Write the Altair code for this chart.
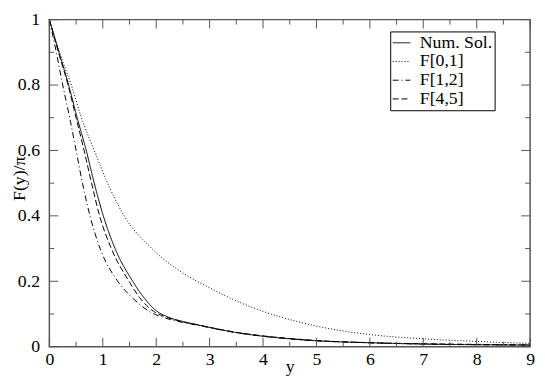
import altair as alt
import pandas as pd

# ---- data ----
series_names = ["Num. Sol.", "F[0,1]", "F[1,2]", "F[4,5]"]

x_num = [0, 0.18, 0.36, 0.52, 0.69, 0.84, 1.01, 1.23, 1.56, 1.77, 2.0, 2.2, 2.5, 2.8, 3.0, 3.5, 4.0, 4.5, 5.0, 6.0, 7.0, 8.0, 9.0]
y_num = [1, 0.9, 0.8, 0.7, 0.6, 0.5, 0.4, 0.3, 0.2, 0.15, 0.11, 0.092, 0.077, 0.066, 0.059, 0.043, 0.032, 0.024, 0.018, 0.012, 0.008, 0.006, 0.005]

x_f01 = [0, 0.19, 0.41, 0.6, 0.84, 1.09, 1.4, 1.92, 2.5, 3.0, 3.5, 4.0, 4.5, 5.0, 5.5, 6.0, 7.0, 8.0, 9.0]
y_f01 = [1, 0.9, 0.8, 0.7, 0.6, 0.5, 0.4, 0.3, 0.225, 0.18, 0.14, 0.108, 0.083, 0.063, 0.048, 0.037, 0.024, 0.016, 0.01]

x_f12 = [0, 0.13, 0.25, 0.38, 0.5, 0.62, 0.76, 0.95, 1.28, 1.55, 1.9, 2.2, 2.5, 2.8, 3.0, 3.5, 4.0, 4.5, 5.0, 6.0, 7.0, 8.0, 9.0]
y_f12 = [1, 0.9, 0.8, 0.7, 0.6, 0.5, 0.4, 0.3, 0.2, 0.15, 0.105, 0.086, 0.074, 0.065, 0.058, 0.043, 0.032, 0.024, 0.018, 0.012, 0.008, 0.006, 0.005]

x_f45 = [0, 0.17, 0.35, 0.5, 0.65, 0.79, 0.94, 1.16, 1.49, 1.69, 1.95, 2.2, 2.5, 2.8, 3.0, 3.5, 4.0, 4.5, 5.0, 6.0, 7.0, 8.0, 9.0]
y_f45 = [1, 0.9, 0.8, 0.7, 0.6, 0.5, 0.4, 0.3, 0.2, 0.15, 0.108, 0.09, 0.076, 0.066, 0.059, 0.044, 0.033, 0.025, 0.019, 0.012, 0.009, 0.007, 0.005]

x_major = [0, 1, 2, 3, 4, 5, 6, 7, 8, 9]
x_minor = [0.5, 1.5, 2.5, 3.5, 4.5, 5.5, 6.5, 7.5, 8.5]
y_major = [0, 0.2, 0.4, 0.6, 0.8, 1.0]
y_minor = [0.1, 0.3, 0.5, 0.7, 0.9]

# ---- build tables ----
rows = []
for name, xs, ys in zip(series_names, [x_num, x_f01, x_f12, x_f45], [y_num, y_f01, y_f12, y_f45]):
    for xv, yv in zip(xs, ys):
        rows.append({"x": xv, "y": yv, "series": name})
df = pd.DataFrame(rows)

W, H = 488, 332
FONT = "Liberation Serif, Times New Roman, DejaVu Serif, serif"
FRAME = "#555555"

xscale = alt.Scale(domain=[0, 9], nice=False, zero=False)
yscale = alt.Scale(domain=[0, 1], nice=False, zero=False)

lines = alt.Chart(df).mark_line(color="black", strokeWidth=1, interpolate="monotone").encode(
    x=alt.X("x:Q", scale=xscale,
            axis=alt.Axis(title="y", values=x_major, format="d", ticks=False, domain=False,
                          grid=False, labelPadding=4, titleY=25, titleBaseline="alphabetic",
                          labelFlush=False)),
    y=alt.Y("y:Q", scale=yscale,
            axis=alt.Axis(title="F(y)/π", values=y_major, format="~g", ticks=False, domain=False,
                          grid=False, labelPadding=10, titleX=-25, titleY=161,
                          titleAngle=270, titleAlign="center", titleBaseline="alphabetic",
                          labelFlush=False)),
    strokeDash=alt.StrokeDash(
        "series:N",
        scale=alt.Scale(domain=series_names,
                        range=[[1, 0], [1, 2], [6, 3, 1, 3], [6, 3]]),
        legend=alt.Legend(title=None, orient="none", legendX=346, legendY=12,
                          symbolType="stroke", symbolSize=324, symbolStrokeColor="black",
                          symbolStrokeWidth=1, labelFont=FONT, labelFontSize=18,
                          labelColor="black", strokeColor="black", fillColor="white",
                          padding=2, rowPadding=0, labelOffset=9, cornerRadius=0),
    ),
)

tick_major_x = pd.DataFrame({"v": x_major})
tick_minor_x = pd.DataFrame({"v": x_minor})
tick_major_y = pd.DataFrame({"v": y_major})
tick_minor_y = pd.DataFrame({"v": y_minor})

MAJ, MIN = 9, 5

def xticks(data, length):
    bottom = alt.Chart(data).mark_rule(color=FRAME, strokeWidth=1).encode(
        x=alt.X("v:Q", scale=xscale), y=alt.value(H), y2=alt.value(H - length))
    top = alt.Chart(data).mark_rule(color=FRAME, strokeWidth=1).encode(
        x=alt.X("v:Q", scale=xscale), y=alt.value(0), y2=alt.value(length))
    return [bottom, top]

def yticks(data, length):
    left = alt.Chart(data).mark_rule(color=FRAME, strokeWidth=1).encode(
        y=alt.Y("v:Q", scale=yscale), x=alt.value(0), x2=alt.value(length))
    right = alt.Chart(data).mark_rule(color=FRAME, strokeWidth=1).encode(
        y=alt.Y("v:Q", scale=yscale), x=alt.value(W), x2=alt.value(W - length))
    return [left, right]

layers = [lines] + xticks(tick_major_x, MAJ) + xticks(tick_minor_x, MIN) \
    + yticks(tick_major_y, MAJ) + yticks(tick_minor_y, MIN)

chart = alt.layer(*layers).properties(
    width=W, height=H,
    autosize=alt.AutoSizeParams(type="none"),
    padding={"left": 42, "top": 9, "right": 7, "bottom": 29},
    background="white",
).configure_view(
    stroke=FRAME, strokeWidth=1.5
).configure_axis(
    labelFont=FONT, labelFontSize=18, labelColor="black",
    titleFont=FONT, titleFontSize=18, titleColor="black", titleFontWeight="normal",
)

chart.save("out.html", embed_options={"renderer": "svg", "actions": False})
